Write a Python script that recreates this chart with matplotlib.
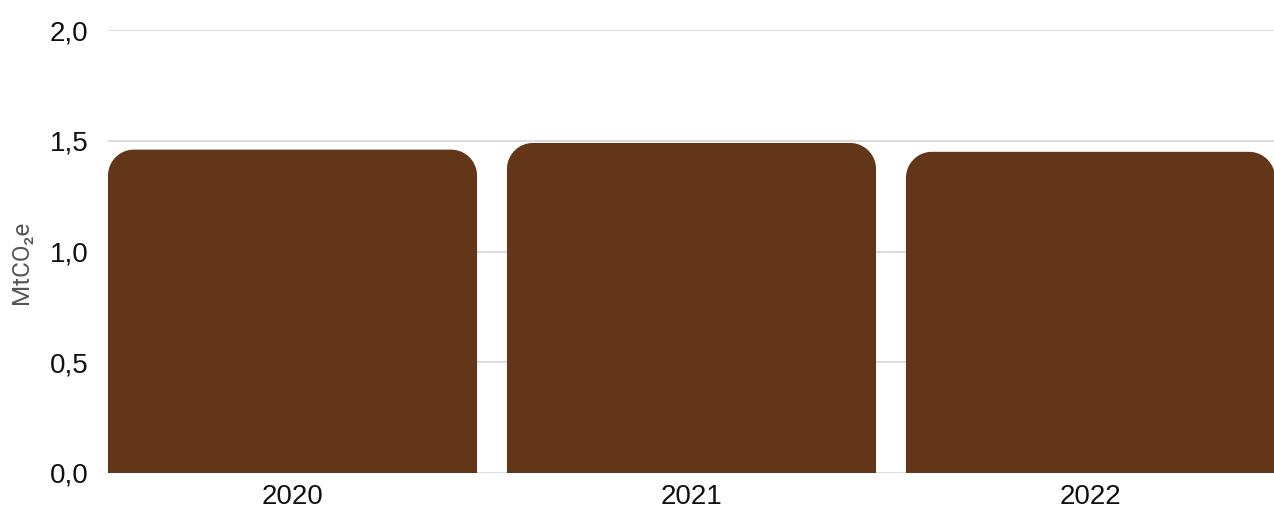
import matplotlib
matplotlib.use("Agg")
import numpy as np
import matplotlib.pyplot as plt
from matplotlib.patches import PathPatch
from matplotlib.path import Path
from matplotlib.ticker import FuncFormatter

years = ["2020", "2021", "2022"]
values = [1.46, 1.49, 1.45]
y_ticks = [0.0, 0.5, 1.0, 1.5, 2.0]

plt.rcParams['font.family'] = ['Liberation Sans', 'DejaVu Sans']

W, H = 1274, 509
fig = plt.figure(figsize=(W / 100, H / 100), dpi=100)
ax = fig.add_axes([108 / W, 1 - 473 / H, (W - 108) / W, (473 - 30) / H])

bar_w = 0.925
xlim = (-bar_w / 2, 2.46)
ylim = (0, 2.0)
ax.set_xlim(*xlim)
ax.set_ylim(*ylim)

ax_w_px = W - 108
ax_h_px = 473 - 30
px_per_x = ax_w_px / (xlim[1] - xlim[0])
px_per_y = ax_h_px / (ylim[1] - ylim[0])
r_px = 26
rx = r_px / px_per_x
ry = r_px / px_per_y


def rounded_top_bar(x0, w, h):
    pts = [(x0, 0)]
    cx, cy = x0 + rx, h - ry
    for a in np.linspace(np.pi, np.pi / 2, 20):
        pts.append((cx + rx * np.cos(a), cy + ry * np.sin(a)))
    cx = x0 + w - rx
    for a in np.linspace(np.pi / 2, 0, 20):
        pts.append((cx + rx * np.cos(a), cy + ry * np.sin(a)))
    pts.append((x0 + w, 0))
    pts.append((x0, 0))
    return Path(pts, closed=True)


color = "#63361a"
for i, v in enumerate(values):
    path = rounded_top_bar(i - bar_w / 2, bar_w, v)
    ax.add_patch(PathPatch(path, facecolor=color, edgecolor="none", zorder=3))

ax.set_xticks(range(len(years)))
ax.set_xticklabels(years)
ax.set_yticks(y_ticks)
ax.yaxis.set_major_formatter(FuncFormatter(lambda v, p: f"{v:.1f}".replace(".", ",")))
ax.tick_params(axis="both", length=0, labelsize=20, colors="#111111")
ax.tick_params(axis="y", pad=14)
ax.tick_params(axis="x", pad=8)
ax.grid(axis="y", color="#d9d9d9", linewidth=1.3, zorder=0)
ax.set_axisbelow(True)
for s in ax.spines.values():
    s.set_visible(False)

fig.text(21 / W, 1 - 262 / H, "MtCO₂e", rotation=90, ha="center", va="center",
         fontsize=17.5, color="#555555", family=["Roboto", "DejaVu Sans"])

fig.savefig("out.png", dpi=100)
